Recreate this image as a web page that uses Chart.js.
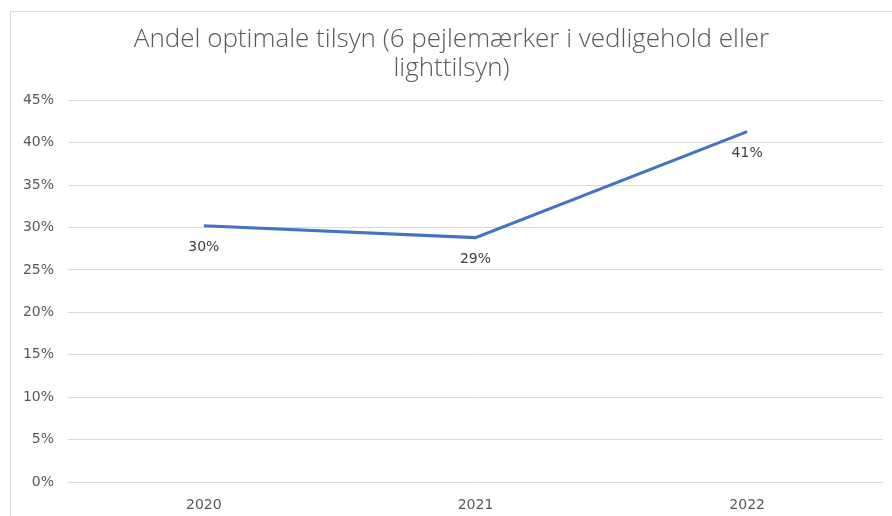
<!DOCTYPE html>
<html>
<head>
<meta charset="utf-8">
<script src="https://cdn.jsdelivr.net/npm/chart.js@4/dist/chart.umd.min.js"></script>
<style>
  html, body { margin: 0; padding: 0; background: #fff; }
  #frame { position: absolute; left: 10px; top: 11px; width: 900px; height: 520px; border: 1px solid #d9d9d9; }
  #wrap { position: absolute; left: 0; top: 0; width: 892px; height: 516px; }
</style>
</head>
<body>
<div id="frame"></div>
<div id="wrap"><canvas id="andelChart"></canvas></div>
<script>
// data
const years = ["2020", "2021", "2022"];
const andelOptimale = [30.2, 28.8, 41.3];
const andelLabels = ["30%", "29%", "41%"];
const titleLines = ["Andel optimale tilsyn (6 pejlemærker i vedligehold eller", "lighttilsyn)"];

// labels under each point
const pointLabels = {
    id: "pointLabels",
    afterDatasetsDraw(chart) {
        const ctx = chart.ctx;
        const meta = chart.getDatasetMeta(0);
        ctx.save();
        ctx.font = "14px 'DejaVu Sans'";
        ctx.fillStyle = "#404040";
        ctx.textAlign = "center";
        ctx.textBaseline = "middle";
        meta.data.forEach((pt, i) => {
            ctx.fillText(andelLabels[i], pt.x, pt.y + 22);
        });
        ctx.restore();
    }
};

const ctx = document.getElementById("andelChart").getContext("2d");
new Chart(ctx, {
    type: "line",
    data: {
        labels: years,
        datasets: [{
            label: "Andel optimale tilsyn",
            data: andelOptimale,
            borderColor: "#4472C4",
            borderWidth: 3,
            pointRadius: 0,
            tension: 0,
            fill: false
        }]
    },
    options: {
        responsive: true,
        maintainAspectRatio: false,
        animation: false,
        layout: { padding: { top: 26, right: 9, left: 20, bottom: 0 } },
        plugins: {
            legend: { display: false },
            tooltip: { enabled: false },
            title: {
                display: true,
                text: titleLines,
                color: "#595959",
                font: { family: "Open Sans", size: 26, weight: "300", lineHeight: 1.08 },
                padding: { top: 0, bottom: 18 }
            }
        },
        scales: {
            x: {
                offset: true,
                grid: { display: false },
                border: { display: false },
                ticks: { color: "#595959", font: { family: "DejaVu Sans", size: 14 }, padding: 7 },
                afterFit(scale) { scale.height = 34; }
            },
            y: {
                min: 0,
                max: 45,
                clip: false,
                grid: { color: "#d9d9d9", drawTicks: false },
                border: { display: false },
                ticks: {
                    stepSize: 5,
                    color: "#595959",
                    font: { family: "DejaVu Sans", size: 14 },
                    padding: 14,
                    callback: v => v + "%"
                },
                afterFit(scale) { scale.width = 48; }
            }
        }
    },
    plugins: [pointLabels]
});
</script>
</body>
</html>
